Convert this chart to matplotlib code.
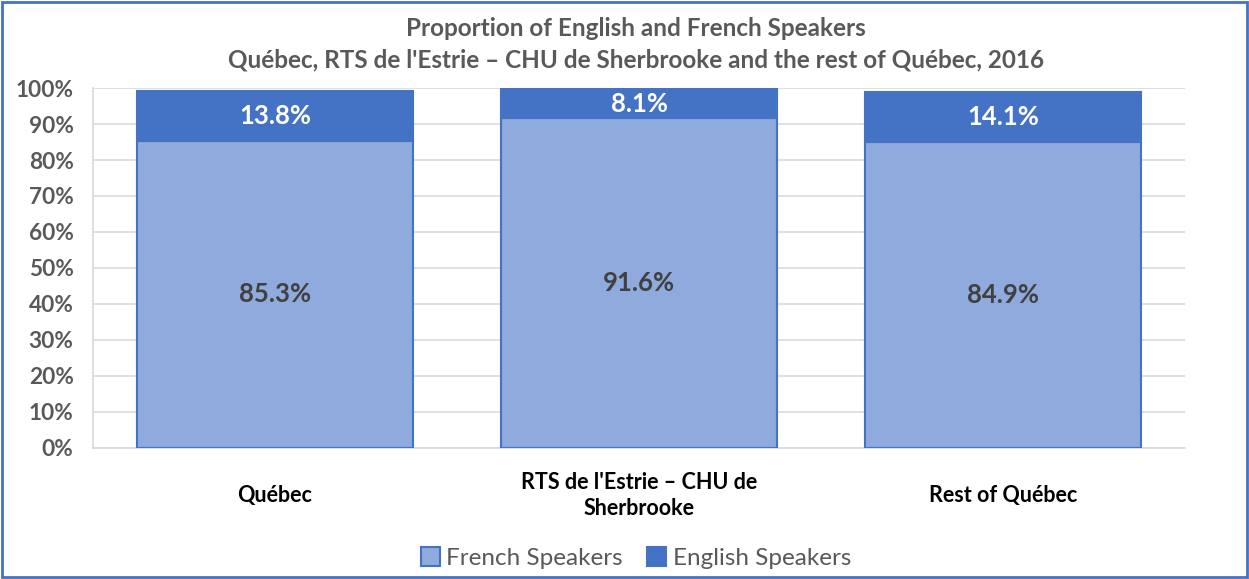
import matplotlib
matplotlib.use("Agg")
import matplotlib.pyplot as plt
from matplotlib.patches import Rectangle
from matplotlib.ticker import PercentFormatter

# ── Data ───────────────────────────────────────────────────────────
regions = ["Québec", "RTS de l'Estrie – CHU de\nSherbrooke", "Rest of Québec"]
french = [85.3, 91.6, 84.9]
english = [13.8, 8.1, 14.1]
series_names = ["French Speakers", "English Speakers"]

FRENCH_C = "#8FAADC"
ENGLISH_C = "#4472C4"
EDGE_C = "#4472C4"
GRAY = "#595959"

plt.rcParams["font.family"] = ["Lato", "DejaVu Sans"]

fig = plt.figure(figsize=(12.49, 5.79), dpi=100)
ax = fig.add_axes([0.0745, 0.2263, 0.8743, 0.6217])

x = range(len(regions))
ax.bar(x, french, width=0.756, color=FRENCH_C, edgecolor=EDGE_C, linewidth=1.5,
       label=series_names[0], zorder=3)
ax.bar(x, english, width=0.756, bottom=french, color=ENGLISH_C, edgecolor=EDGE_C,
       linewidth=1.5, label=series_names[1], zorder=3)

for i, (f, e) in enumerate(zip(french, english)):
    ax.text(i, f / 2, f"{f:.1f}%", ha="center", va="center", fontsize=18.5,
            fontweight="bold", color="#404040", zorder=4)
    ax.text(i, f + e / 2, f"{e:.1f}%", ha="center", va="center", fontsize=18.5,
            fontweight="bold", color="white", zorder=4)

ax.set_xlim(-0.5, len(regions) - 0.5)
ax.set_ylim(0, 100)
ax.set_yticks(range(0, 101, 10))
ax.yaxis.set_major_formatter(PercentFormatter(decimals=0))
ax.grid(axis="y", color="#D9D9D9", linewidth=1.2, zorder=0)
for s in ["top", "right"]:
    ax.spines[s].set_visible(False)
for s in ["left", "bottom"]:
    ax.spines[s].set_color("#D9D9D9")
    ax.spines[s].set_linewidth(1.2)

ax.set_xticks(list(x))
ax.set_xticklabels(regions, fontsize=15.5, fontweight="bold", color="black",
                   va="center", linespacing=1.3)
ax.tick_params(axis="x", length=0, pad=34)
ax.tick_params(axis="y", length=0, pad=14, labelsize=16.3, labelcolor=GRAY)
for lbl in ax.get_yticklabels():
    lbl.set_fontweight("bold")

fig.text(0.509, 0.951, "Proportion of English and French Speakers", ha="center",
         va="center", fontsize=17.5, fontweight="bold", color=GRAY)
fig.text(0.509, 0.896, "Québec, RTS de l'Estrie – CHU de Sherbrooke and the rest of Québec, 2016",
         ha="center", va="center", fontsize=17.5, fontweight="bold", color=GRAY)

leg = fig.legend(loc="center", bbox_to_anchor=(0.509, 0.036), ncol=2, frameon=False,
                 fontsize=17.5, handlelength=0.8, handleheight=0.8, handletextpad=0.25,
                 columnspacing=1.0)
for t in leg.get_texts():
    t.set_color(GRAY)

fig.patches.append(Rectangle((0.002, 0.003), 0.996, 0.994, transform=fig.transFigure,
                             fill=False, edgecolor="#4472C4", linewidth=2))

fig.savefig("out.png", dpi=100)
